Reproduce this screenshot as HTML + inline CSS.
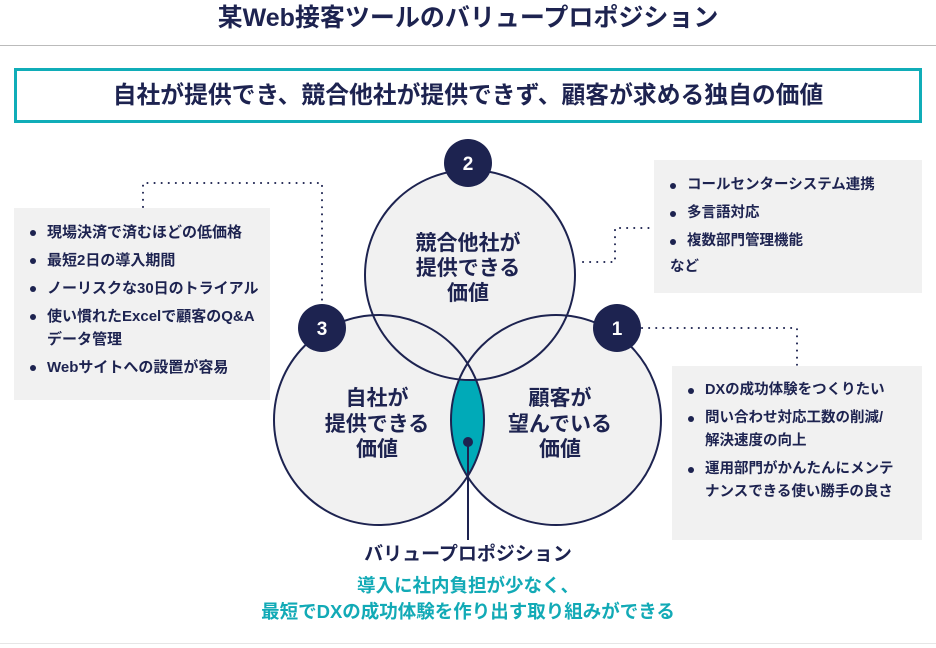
<!DOCTYPE html>
<html><head><meta charset="utf-8"><style>
body{margin:0;width:936px;height:648px;background:#fff;position:relative;overflow:hidden;font-family:"Liberation Sans","Noto Sans CJK JP",sans-serif;color:#1d2350;font-weight:bold}
.abs{position:absolute}
.box{position:absolute;background:#f1f1f1}
ul{list-style:none;margin:0;padding:0}
li{position:relative;padding-left:33px;font-size:14.5px;line-height:23px;margin-bottom:5px;white-space:nowrap}
li:before{content:"";position:absolute;left:16px;top:9px;width:6px;height:6px;border-radius:50%;background:#1d2350}
</style></head><body>
<div class="abs" style="left:0;top:2px;width:936px;text-align:center;font-size:25px;line-height:32px">某Web接客ツールのバリュープロポジション</div>
<div class="abs" style="left:0;top:45px;width:936px;height:1px;background:#bbb"></div>
<div class="abs" style="left:14px;top:68px;width:902px;height:49px;border:3px solid #10adb8;text-align:center;font-size:23.8px;line-height:49px">自社が提供でき、競合他社が提供できず、顧客が求める独自の価値</div>

<div class="box" style="left:14px;top:208px;width:256px;height:192px"><ul style="margin-top:13px;font-size:15px">
<li style="font-size:15px">現場決済で済むほどの低価格</li><li style="font-size:15px">最短2日の導入期間</li><li style="font-size:15px">ノーリスクな30日のトライアル</li><li style="font-size:15px">使い慣れたExcelで顧客のQ&amp;A<br>データ管理</li><li style="font-size:15px">Webサイトへの設置が容易</li></ul></div>
<div class="box" style="left:654px;top:160px;width:268px;height:133px"><ul style="margin-top:14px">
<li>コールセンターシステム連携</li><li>多言語対応</li><li>複数部門管理機能</li></ul><div style="font-size:14.5px;padding-left:16px;line-height:18px">など</div></div>
<div class="box" style="left:672px;top:366px;width:250px;height:174px"><ul style="margin-top:13px">
<li>DXの成功体験をつくりたい</li><li>問い合わせ対応工数の削減/<br>解決速度の向上</li><li>運用部門がかんたんにメンテ<br>ナンスできる使い勝手の良さ</li></ul></div>

<svg class="abs" style="left:0;top:0" width="936" height="648">
<defs>
<clipPath id="c3"><circle cx="379" cy="420" r="105"/></clipPath>
<mask id="m2"><rect width="936" height="648" fill="#fff"/><circle cx="470" cy="275" r="105" fill="#000"/></mask>
</defs>
<g fill="none" stroke="#1d2350" stroke-width="2" stroke-dasharray="0.1 7" stroke-linecap="round">
<path d="M143 207 V183 H322 V305"/>
<path d="M583 262 H615 V228 H655"/>
<path d="M642 328 H797 V365"/>
</g>
<circle cx="470" cy="275" r="105" fill="#f1f1f1"/>
<circle cx="556" cy="420" r="105" fill="#f1f1f1"/>
<circle cx="379" cy="420" r="105" fill="#f1f1f1"/>
<g clip-path="url(#c3)" mask="url(#m2)"><circle cx="556" cy="420" r="105" fill="#00aab8"/></g>
<g fill="none" stroke="#1d2350" stroke-width="2">
<circle cx="470" cy="275" r="105"/>
<circle cx="379" cy="420" r="105"/>
<circle cx="556" cy="420" r="105"/>
</g>
<circle cx="468" cy="442" r="5" fill="#1d2350"/>
<line x1="468" y1="442" x2="468" y2="540" stroke="#1d2350" stroke-width="2"/>
<g fill="#1d2350"><circle cx="468" cy="163" r="24"/><circle cx="322" cy="328" r="24"/><circle cx="617" cy="328" r="24"/></g>
<g fill="#fff" font-size="19" font-weight="bold" text-anchor="middle" font-family="Liberation Sans,sans-serif">
<text x="468" y="170">2</text><text x="322" y="335">3</text><text x="617" y="335">1</text></g>
<g fill="#1d2350" font-size="21" font-weight="bold" text-anchor="middle" font-family="Liberation Sans,Noto Sans CJK JP,sans-serif">
<text x="468" y="250">競合他社が</text><text x="468" y="275">提供できる</text><text x="468" y="300">価値</text>
<text x="377" y="405">自社が</text><text x="377" y="431">提供できる</text><text x="377" y="456">価値</text>
<text x="560" y="405">顧客が</text><text x="560" y="431">望んでいる</text><text x="560" y="456">価値</text>
</g>
</svg>
<div class="abs" style="left:0;top:542px;width:936px;text-align:center;font-size:19px;line-height:26px">バリュープロポジション</div>
<div class="abs" style="left:0;top:573px;width:936px;text-align:center;font-size:18.5px;line-height:26px;color:#12aab6">導入に社内負担が少なく、<br>最短でDXの成功体験を作り出す取り組みができる</div>
<div class="abs" style="left:0;top:643px;width:936px;height:1px;background:#e6e6e6"></div>
</body></html>
